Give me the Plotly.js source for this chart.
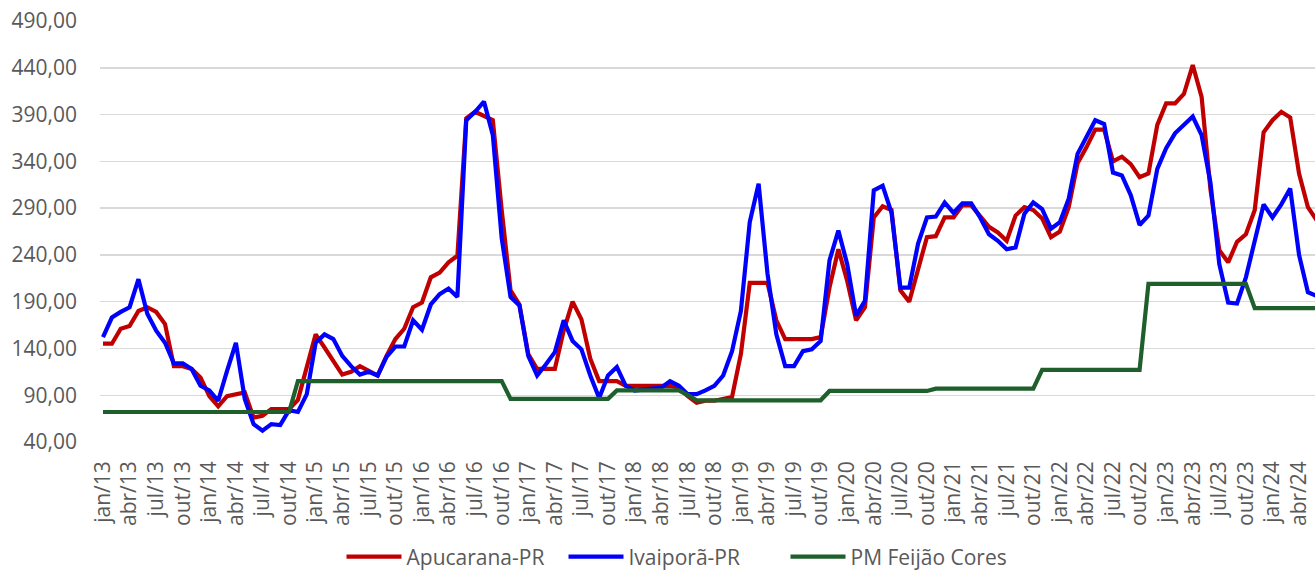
<!DOCTYPE html>
<html>
<head>
<meta charset="utf-8">
<script src="https://cdn.plot.ly/plotly-3.0.1.min.js"></script>
<style>
html,body{margin:0;padding:0;background:#ffffff;}
#chart{width:1315px;height:570px;}
</style>
</head>
<body>
<div id="chart"></div>
<script>
// Month abbreviations (pt-BR) and the years covered: jan/13 .. jun/24
const monthNames = ['jan','fev','mar','abr','mai','jun','jul','ago','set','out','nov','dez'];
const years = ['13','14','15','16','17','18','19','20','21','22','23','24'];
const lastMonthOfLastYear = 6; // jun/24

const categories = [];
years.forEach((y, yi) => {
  const nm = (yi === years.length - 1) ? lastMonthOfLastYear : 12;
  for (let m = 0; m < nm; m++) categories.push(monthNames[m] + '/' + y);
});

// Tick labels: every quarter (jan, abr, jul, out)
const tickLabels = categories.filter(c => /^(jan|abr|jul|out)\//.test(c));

const seriesNames = ['Apucarana-PR', 'Ivaiporã-PR', 'PM Feijão Cores'];

const apucarana = [
145,145,161,164,180,184,179,166,121,121,118,109,
89,78,89,91,93,66,68,75,75,75,85,122,
155,141,127,112,115,121,116,111,132,150,161,184,
189,216,221,232,239,386,393,389,384,288,202,187,
134,118,118,118,159,190,171,129,105,105,105,100,
100,100,100,100,100,98,89,82,84,84,86,88,
134,210,210,210,170,150,150,150,150,152,205,246,
212,170,184,280,292,288,202,190,223,259,260,280,
280,293,293,282,270,264,255,282,291,288,279,259,
265,291,338,355,374,374,340,345,337,323,327,379,
402,402,412,443,409,310,245,232,254,262,288,371,
384,393,387,327,291,277
];

const ivaipora = [
152,173,179,184,214,177,159,146,124,124,118,100,
95,84,116,146,86,59,52,59,58,74,72,91,
146,155,150,132,121,112,115,111,131,142,142,170,
160,187,198,204,195,384,393,404,368,258,195,186,
132,111,123,136,170,148,139,111,87,111,120,100,
95,96,97,98,105,100,91,91,95,100,111,137,
180,275,316,220,155,121,121,137,139,148,234,266,
230,175,191,309,314,285,205,205,252,280,281,296,
285,295,295,280,262,255,246,248,284,296,289,268,
275,300,348,366,384,380,328,325,304,272,282,332,
354,370,379,388,368,317,230,189,188,216,255,294,
280,294,311,240,200,196
];

const pmFeijaoCores = [
72,72,72,72,72,72,72,72,72,72,72,72,
72,72,72,72,72,72,72,72,72,72,105,105,
105,105,105,105,105,105,105,105,105,105,105,105,
105,105,105,105,105,105,105,105,105,105,86,86,
86,86,86,86,86,86,86,86,86,86,95,95,
95,95,95,95,95,95,90,84.5,84.5,84.5,84.5,84.5,
84.5,84.5,84.5,84.5,84.5,84.5,84.5,84.5,84.5,84.5,94.5,94.5,
94.5,94.5,94.5,94.5,94.5,94.5,94.5,94.5,94.5,94.5,97,97,
97,97,97,97,97,97,97,97,97,97,117,117,
117,117,117,117,117,117,117,117,117,117,209,209,
209,209,209,209,209,209,209,209,209,209,183,183,
183,183,183,183,183,183
];

const colors = ['#C00000', '#0000FF', '#1E5F2B'];
const grey = '#595959';
const fontFamily = '"Open Sans", "DejaVu Sans", sans-serif';

const traces = [apucarana, ivaipora, pmFeijaoCores].map((vals, k) => ({
  type: 'scatter',
  mode: 'lines',
  name: seriesNames[k],
  x: categories,
  y: vals,
  line: {color: colors[k], width: 4.2, shape: 'linear'},
  hoverinfo: 'x+y+name'
}));

const layout = {
  width: 1315,
  height: 570,
  margin: {l: 100, r: 0, t: 21, b: 128, pad: 0},
  paper_bgcolor: '#ffffff',
  plot_bgcolor: '#ffffff',
  separators: ',.',
  font: {family: fontFamily, size: 21, color: grey},
  showlegend: true,
  xaxis: {
    type: 'category',
    range: [-0.34, 136.8],
    tickmode: 'array',
    tickvals: tickLabels,
    ticktext: tickLabels,
    tickangle: -90,
    showgrid: false,
    zeroline: false,
    showline: false,
    ticks: '',
    ticklabelstandoff: 14,
    tickfont: {family: fontFamily, size: 21, color: grey},
    fixedrange: true
  },
  yaxis: {
    range: [39.9, 490.1],
    tick0: 40,
    dtick: 50,
    tickformat: '.2f',
    showgrid: true,
    gridcolor: '#D9D9D9',
    gridwidth: 1.3,
    zeroline: false,
    showline: false,
    ticks: '',
    ticklabelstandoff: 22,
    tickfont: {family: fontFamily, size: 21, color: grey},
    fixedrange: true
  },
  legend: {
    orientation: 'h',
    xref: 'container',
    yref: 'container',
    x: 0.2597,
    xanchor: 'left',
    y: 0.023,
    yanchor: 'middle',
    font: {family: fontFamily, size: 21, color: grey},
    itemwidth: 55,
    entrywidth: 152,
    entrywidthmode: 'pixels',
    bgcolor: 'rgba(0,0,0,0)',
    traceorder: 'normal'
  }
};

Plotly.newPlot('chart', traces, layout, {displayModeBar: false, staticPlot: true});
</script>
</body>
</html>
